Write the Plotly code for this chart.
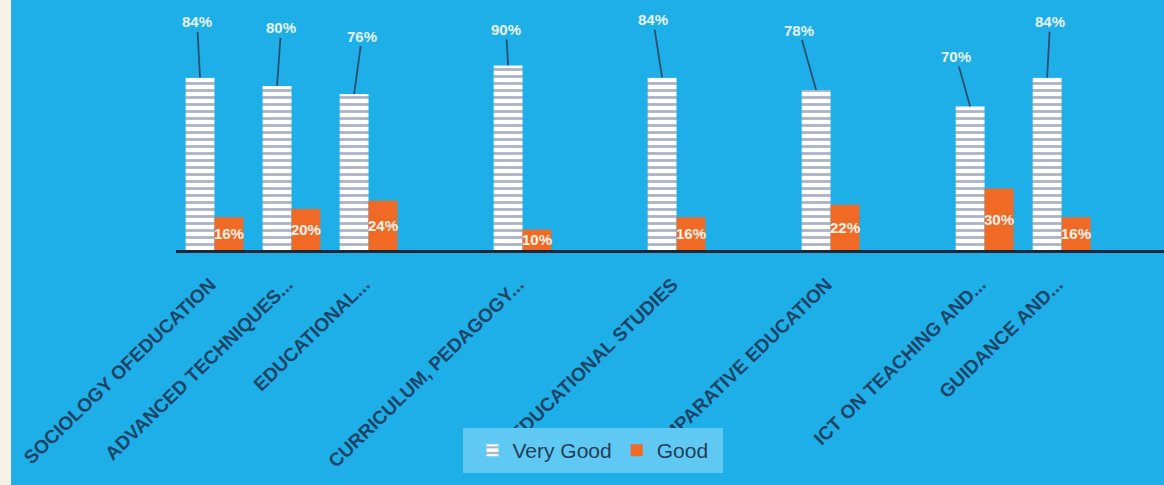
import plotly.graph_objects as go

# ---- data ----
categories = ["SOCIOLOGY OFEDUCATION", "ADVANCED TECHNIQUES...", "EDUCATIONAL...", " ",
              "CURRICULUM, PEDAGOGY...", "  ", "EDUCATIONAL STUDIES", "   ",
              "COMPARATIVE EDUCATION", "    ", "ICT ON TEACHING AND...", "GUIDANCE AND..."]
very_good = [84, 80, 76, None, 90, None, 84, None, 78, None, 70, 84]
good = [16, 20, 24, None, 10, None, 16, None, 22, None, 30, 16]
series_names = ["Very Good", "Good"]

# ---- styling constants ----
BG = "#1FAFE8"
LEG_BG = "#5FC9F3"
ORANGE = "#F06A25"
NAVY = "#1B4466"
L, R, T, B = 176, 0, 10, 235
W, H = 1164, 485
PW, PH = W - L - R, H - T - B
XR = [-0.5, 12.33]
YR = [0, 117]
BARGAP = 0.25
unit_px = PW / (XR[1] - XR[0])
vg_shift = -(1 - BARGAP) / 4 * unit_px

def pct(v):
    return None if v is None else f"{v}%"

def px_x(p):
    return (p - L) / PW

def px_y(p):
    return (H - B - p) / PH

fig = go.Figure()
fig.add_trace(go.Bar(
    x=categories, y=very_good, name=series_names[0],
    marker=dict(color="white", line=dict(width=0),
                pattern=dict(shape="-", fgcolor="#56698C", bgcolor="white",
                             size=7, solidity=0.4, fillmode="overlay")),
    hoverinfo="skip",
))
fig.add_trace(go.Bar(
    x=categories, y=good, name=series_names[1],
    marker=dict(color=ORANGE, line=dict(width=0)),
    text=[pct(v) for v in good], textposition="inside", insidetextanchor="middle",
    textangle=0, constraintext="none",
    textfont=dict(family="Liberation Sans", size=15, color="#FFF3EA", weight="bold"),
    hoverinfo="skip",
))

# leader-line labels for "Very Good"
label_offsets = {0: (-3, -56), 1: (4, -58), 2: (8, -58), 4: (-2, -36),
                 6: (-9, -58), 8: (-17, -60), 10: (-14, -50), 11: (3, -56)}
annotations = []
for i, (c, v) in enumerate(zip(categories, very_good)):
    if v is None:
        continue
    ax, ay = label_offsets[i]
    annotations.append(dict(
        x=c, y=v, xref="x", yref="y", xshift=vg_shift, text=pct(v),
        showarrow=True, arrowhead=0, arrowwidth=1.8, arrowcolor="#2C4F6C",
        ax=ax, ay=ay, standoff=0,
        font=dict(family="Liberation Sans", size=15, color="#E6F4FB", weight="bold"),
    ))

fig.update_layout(
    width=W, height=H,
    margin=dict(l=L, r=R, t=T, b=B),
    paper_bgcolor=BG, plot_bgcolor=BG,
    barmode="group", bargap=BARGAP, bargroupgap=0,
    showlegend=True,
    legend=dict(orientation="h", x=px_x(593), xanchor="center", y=px_y(430), yanchor="top",
                bgcolor=LEG_BG, borderwidth=0,
                font=dict(family="Liberation Sans", size=21, color="#1E3F5A"),
                itemclick=False),
    annotations=annotations,
    shapes=[
        dict(type="rect", xref="paper", yref="paper",
             x0=px_x(0), x1=px_x(11), y0=-2, y1=2,
             fillcolor="#F6F1E7", line=dict(width=0), layer="below"),
        dict(type="rect", xref="paper", yref="paper",
             x0=px_x(463), x1=px_x(723), y0=px_y(473), y1=px_y(428),
             fillcolor=LEG_BG, line=dict(width=0), layer="above"),
    ],
    xaxis=dict(type="category", categoryorder="array", categoryarray=categories,
               range=XR, showline=True, linecolor="#15283A", linewidth=3,
               showgrid=False, ticks="", tickangle=-44,
               ticklabelshift=-4, ticklabelstandoff=13,
               tickfont=dict(family="Liberation Sans", size=19, color=NAVY, weight="bold"),
               fixedrange=True),
    yaxis=dict(range=YR, visible=False, showgrid=False, zeroline=False, fixedrange=True),
)

fig.write_html("out.html", config={"displayModeBar": False},
               post_script="document.body.style.margin='0';")
